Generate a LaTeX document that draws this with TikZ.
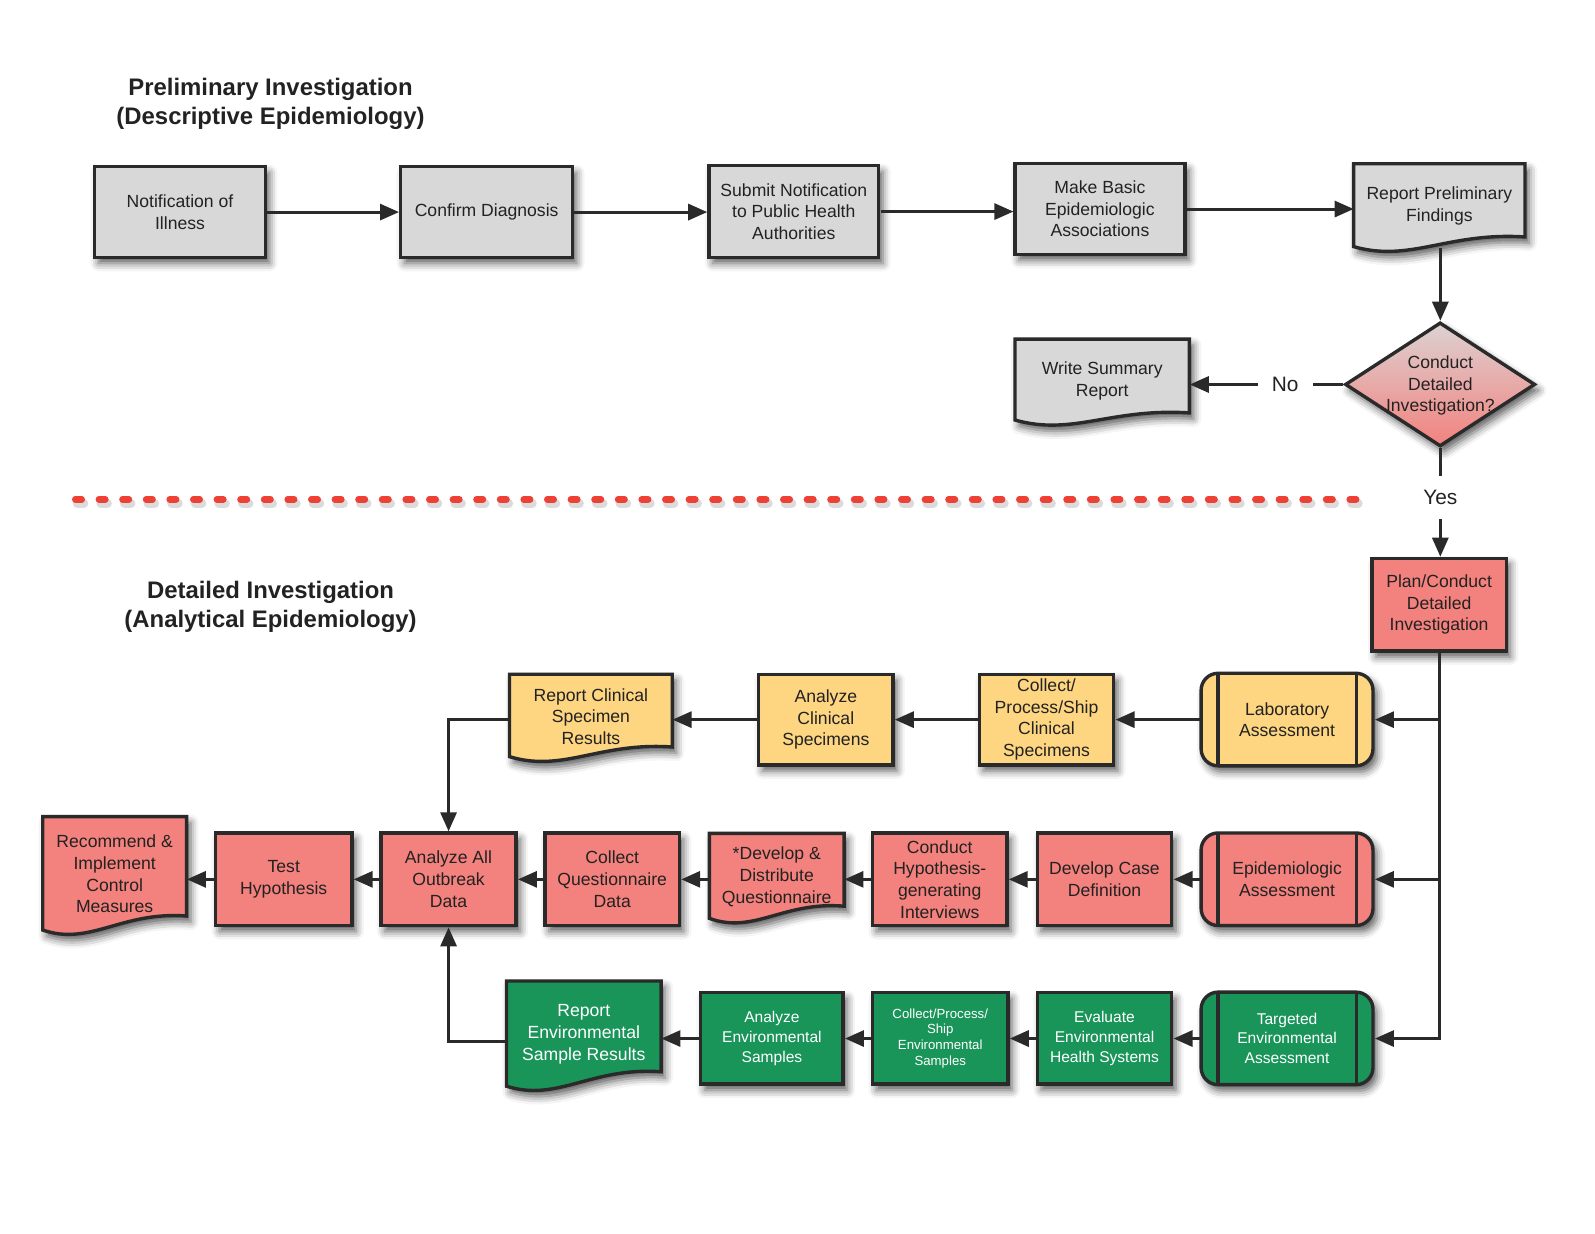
\documentclass[tikz,border=0pt]{standalone}
\usepackage{fontspec}
\setmainfont{Liberation Sans}
\usetikzlibrary{arrows.meta,shapes.geometric,shadows.blur,calc}
\definecolor{ecol}{HTML}{2A2A2A}
\definecolor{txt}{HTML}{222222}
\definecolor{grayf}{HTML}{D8D8D8}
\definecolor{redf}{HTML}{F3817D}
\definecolor{yelf}{HTML}{FED580}
\definecolor{grnf}{HTML}{1A955A}
\definecolor{dotred}{HTML}{EE4136}
\definecolor{diatop}{HTML}{DCD2D2}
\definecolor{diabot}{HTML}{F2827E}
\newcommand{\myfnt}{\fontsize{17.3}{21.3}\selectfont}
\newcommand{\gfnt}{\fontsize{15.3}{19.5}\selectfont}
\newcommand{\sfnt}{\fontsize{13}{15.6}\selectfont}
\newcommand{\tfnt}{\fontsize{23.5}{28.5}\selectfont\bfseries}
\newcommand{\lfnt}{\fontsize{20.5}{24}\selectfont}
\newcommand{\docshape}[6]{%
  \path[docline,fill=#1] (#2,#3) -- (#4,#3) -- (#4,#6)
    .. controls ({#2+0.55*(#4-#2)},{#6-5}) and ({#2+0.33*(#4-#2)},{#5+16}) .. (#2,#5) -- cycle;}
\tikzset{
  shad/.style={blur shadow={shadow xshift=4pt,shadow yshift=-6pt,shadow blur radius=8pt,shadow opacity=65}},
  docline/.style={draw=ecol,line width=3.4pt,line join=miter,shad},
  bx/.style={draw=ecol,line width=3.4pt,inner sep=0pt,align=center,font=\myfnt,text=txt,shad},
  tx/.style={inner sep=0pt,align=center,font=\myfnt,text=txt},
  pd/.style={bx,rounded corners=17pt,minimum width=169pt,minimum height=91pt,
    path picture={\draw[ecol,line width=3.4pt]
      ([xshift=16.5pt]path picture bounding box.north west) -- ([xshift=16.5pt]path picture bounding box.south west)
      ([xshift=-16.5pt]path picture bounding box.north east) -- ([xshift=-16.5pt]path picture bounding box.south east);}},
  sq/.style={bx,minimum width=132pt,minimum height=90pt},
  wt/.style={text=white,font=\gfnt},
  arr/.style={draw=ecol,line width=3pt,-{Triangle[length=19pt,width=16pt]}},
  lblno/.style={fill=white,font=\lfnt,text=txt,inner xsep=14pt,inner ysep=2pt},
  lblyes/.style={fill=white,font=\lfnt,text=txt,inner xsep=2pt,inner ysep=14pt},
}
\begin{document}
\begin{tikzpicture}[x=1pt,y=-1pt,scale=1.017,transform shape]
\useasboundingbox (0,0) rectangle (1568.3,1212.4);

% titles
\node[font=\tfnt,align=center,text=txt] (t1) at (266,102) {Preliminary Investigation\\(Descriptive Epidemiology)};
\node[font=\tfnt,align=center,text=txt] (t2) at (266,597) {Detailed Investigation\\(Analytical Epidemiology)};

% row 1
\node[bx,fill=grayf,minimum width=168pt,minimum height=89pt] (n1) at (177,208.5) {Notification of\\Illness};
\node[bx,fill=grayf,minimum width=169pt,minimum height=89pt] (n2) at (478.5,208.5) {Confirm Diagnosis};
\node[bx,fill=grayf,minimum width=167pt,minimum height=90pt] (n3) at (780.5,208) {Submit Notification\\to Public Health\\Authorities};
\node[bx,fill=grayf,minimum width=167pt,minimum height=89pt] (n4) at (1081.5,205.5) {Make Basic\\Epidemiologic\\Associations};
\docshape{grayf}{1331}{161}{1499.5}{242.5}{233}
\node[tx,minimum width=168.5pt,minimum height=81.5pt] (rp) at (1415.25,202.5) {Report Preliminary\\Findings};

% decision
\node[diamond,draw=ecol,line width=3.4pt,top color=diatop,bottom color=diabot,
      minimum width=187pt,minimum height=122pt,inner sep=0pt,shad] (dia) at (1416,378) {};
\node[tx] (diat) at ([yshift=-1pt]dia.center) {Conduct\\Detailed\\Investigation?};
\docshape{grayf}{998}{333.4}{1169.5}{413}{406}
\node[tx,minimum width=171.5pt,minimum height=79.6pt] (ws) at (1083.75,374.5) {Write Summary\\Report};

% separator
\draw[black,opacity=0.14,line width=9pt,line cap=round,dash pattern=on 6.5pt off 17.1pt,xshift=2pt,yshift=-4pt] (74,491) -- (1336,491);
\draw[dotred,line width=6.5pt,line cap=round,dash pattern=on 6.5pt off 17.1pt] (74,491) -- (1336,491);

% plan
\node[sq,fill=redf,minimum height=91pt] (plan) at (1415,594.5) {Plan/Conduct\\Detailed\\Investigation};

% yellow row
\node[pd,fill=yelf] (lab) at (1265.5,707.5) {Laboratory\\Assessment};
\node[sq,fill=yelf,minimum height=89pt] (cps) at (1029,707.5) {Collect/\\Process/Ship\\Clinical\\Specimens};
\node[sq,fill=yelf,minimum height=89pt] (acs) at (812,707.5) {Analyze\\Clinical\\Specimens};
\docshape{yelf}{501}{663}{661}{744}{734.5}
\node[tx,minimum width=160pt,minimum height=81pt] (rc) at (581,704.5) {Report Clinical\\Specimen\\Results};

% red row
\node[pd,fill=redf] (epi) at (1265.5,864.5) {Epidemiologic\\Assessment};
\node[sq,fill=redf,minimum height=91pt] (dcd) at (1086,864.5) {Develop Case\\Definition};
\node[sq,fill=redf,minimum height=91pt] (chi) at (924,864.5) {Conduct\\Hypothesis-\\generating\\Interviews};
\docshape{redf}{697.5}{819.4}{830}{903}{891}
\node[tx,minimum width=132.5pt,minimum height=83.6pt] (ddq) at (763.75,862) {*Develop \&\\Distribute\\Questionnaire};
\node[sq,fill=redf,minimum height=91pt] (cqd) at (602,864.5) {Collect\\Questionnaire\\Data};
\node[sq,fill=redf,minimum width=133pt,minimum height=91pt] (aad) at (441,864.5) {Analyze All\\Outbreak\\Data};
\node[sq,fill=redf,minimum width=134pt,minimum height=91pt] (th) at (279,864.5) {Test\\Hypothesis};
\docshape{redf}{42}{803}{183.5}{914.5}{900.7}
\node[tx,minimum width=141.5pt,minimum height=111.5pt] (rec) at (112.75,859.5) {Recommend \&\\Implement\\Control\\Measures};

% green row
\node[pd,fill=grnf,wt] (tea) at (1265.5,1021) {Targeted\\Environmental\\Assessment};
\node[sq,fill=grnf,wt] (eehs) at (1086,1021) {Evaluate\\Environmental\\Health Systems};
\node[sq,fill=grnf,wt,font=\sfnt,minimum width=133pt] (cpse) at (924.5,1021) {Collect/Process/\\Ship\\Environmental\\Samples};
\node[sq,fill=grnf,wt,minimum width=140pt] (aes) at (759,1021) {Analyze\\Environmental\\Samples};
\docshape{grnf}{498}{964.6}{650}{1068}{1053.8}
\node[tx,text=white,minimum width=152pt,minimum height=103.4pt] (res) at (574,1017) {Report\\Environmental\\Sample Results};

% connectors row 1
\draw[arr] (n1.east) -- (n1.east -| n2.west);
\draw[arr] (n2.east) -- (n2.east -| n3.west);
\draw[arr] (n3.east) -- (n3.east -| n4.west);
\draw[arr] (n4.east) -- (n4.east -| rp.west);
\draw[arr] (rp.south -| dia.north) -- (dia.north);
\draw[arr] (dia.west) -- node[lblno,pos=0.38] {No} (dia.west -| ws.east);
\draw[arr] (dia.south) -- node[lblyes,pos=0.45] {Yes} (dia.south |- plan.north);

% branches
\draw[arr] (plan.south) |- (lab.east);
\draw[arr] (plan.south) |- (epi.east);
\draw[arr] (plan.south) |- (tea.east);

% yellow
\draw[arr] (lab.west) -- (cps.east);
\draw[arr] (cps.west) -- (acs.east);
\draw[arr] (acs.west) -- (acs.west -| rc.east);
\draw[arr] (rc.west |- acs.west) -| (aad.north);

% red
\draw[arr] (epi.west) -- (dcd.east);
\draw[arr] (dcd.west) -- (chi.east);
\draw[arr] (chi.west) -- (chi.west -| ddq.east);
\draw[arr] (ddq.west |- cqd.east) -- (cqd.east);
\draw[arr] (cqd.west) -- (aad.east);
\draw[arr] (aad.west) -- (th.east);
\draw[arr] (th.west) -- (th.west -| rec.east);

% green
\draw[arr] (tea.west) -- (eehs.east);
\draw[arr] (eehs.west) -- (cpse.east);
\draw[arr] (cpse.west) -- (aes.east);
\draw[arr] (aes.west) -- (aes.west -| res.east);
\draw[arr] ([yshift=-7pt]res.west) -| (aad.south);
\end{tikzpicture}
\end{document}
